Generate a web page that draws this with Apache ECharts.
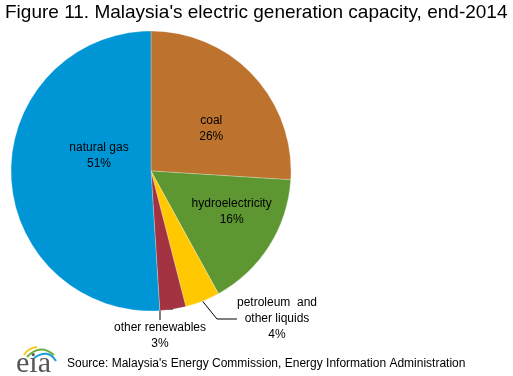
<!DOCTYPE html>
<html style="height: 100%">
<head>
<meta charset="utf-8">
</head>
<body style="height: 100%; margin: 0; background: #fff">
<div id="container" style="width: 513px; height: 376px"></div>
<script src="https://cdn.jsdelivr.net/npm/echarts@6/dist/echarts.min.js"></script>
<script type="text/javascript">
// data (clockwise from 12 o'clock)
var categories = ['coal', 'hydroelectricity', 'petroleum  and\nother liquids', 'other renewables', 'natural gas'];
var shares = [26, 16, 4, 3, 51];
var colors = ['#BD732D', '#5E9732', '#FFC800', '#A33340', '#0096D6'];
var labelInside = [true, true, false, false, true];
// inside labels get nudged, outside labels get placed where the original had them
var labelShift = [[7, 8], [19, 2], null, null, [21, -18]];
var labelSpot = [null, null, [277, 319], [160, 336], null];

var dom = document.getElementById('container');
var myChart = echarts.init(dom);

var pieData = categories.map(function (name, i) {
    return {
        name: name,
        value: shares[i],
        itemStyle: { color: colors[i] },
        label: { position: labelInside[i] ? 'inside' : 'outside' },
        labelLine: { show: !labelInside[i] }
    };
});

var option = {
    animation: false,
    graphic: [
        {
            type: 'text', left: 5, top: 3,
            style: { text: "Figure 11. Malaysia's electric generation capacity, end-2014", font: '19px "Liberation Sans", Arial', fill: '#000' }
        },
        {
            type: 'text', left: 67, top: 358,
            style: { text: "Source: Malaysia's Energy Commission, Energy Information Administration", font: '12px "Liberation Sans", Arial', fill: '#000' }
        },
        // eia logo
        {
            type: 'text', left: 16, top: 349,
            style: { text: 'eia', font: '30px "Liberation Serif", serif', fill: '#555' }
        },
        { type: 'bezierCurve', shape: { x1: 24, y1: 355, cpx1: 28, cpy1: 348, x2: 37, y2: 347 }, style: { stroke: '#F7C91E', lineWidth: 2, fill: null } },
        { type: 'bezierCurve', shape: { x1: 27, y1: 357, cpx1: 40, cpy1: 343, x2: 54, y2: 355 }, style: { stroke: '#6DAE3F', lineWidth: 2, fill: null } },
        { type: 'bezierCurve', shape: { x1: 34, y1: 358, cpx1: 48, cpy1: 348, x2: 56, y2: 361 }, style: { stroke: '#1C9BD7', lineWidth: 2, fill: null } }
    ],
    series: [{
        type: 'pie',
        center: [151, 171],
        radius: 140,
        startAngle: 90,
        clockwise: true,
        avoidLabelOverlap: false,
        itemStyle: { borderColor: 'rgba(255,255,255,0.5)', borderWidth: 0.5 },
        label: {
            formatter: '{b}\n{c}%',
            fontFamily: '"Liberation Sans", Arial',
            fontSize: 12,
            lineHeight: 16,
            color: '#000',
            align: 'center'
        },
        labelLine: {
            length: 12,
            length2: 20,
            lineStyle: { color: '#000', width: 1 }
        },
        labelLayout: function (params) {
            var i = params.dataIndex;
            if (labelSpot[i]) {
                return { x: labelSpot[i][0], y: labelSpot[i][1], align: 'center', verticalAlign: 'middle' };
            }
            return { dx: labelShift[i][0], dy: labelShift[i][1] };
        },
        emphasis: { disabled: true },
        data: pieData
    }]
};
myChart.setOption(option);
</script>
</body>
</html>
